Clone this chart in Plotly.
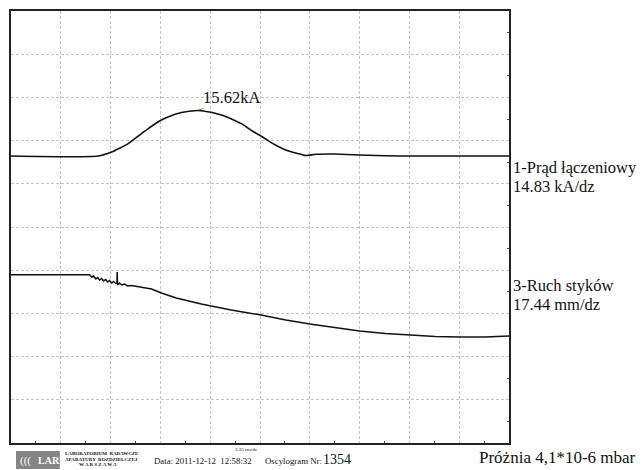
import plotly.graph_objects as go

# ---- scales (per division) ----
MS_PER_DIV = 2.35
KA_PER_DIV = 14.83
MM_PER_DIV = 17.44
N_DIV = 10

# ---- channel 1: switching current (kA) vs time (ms) ----
t_current = [0.00, 4.12, 4.75, 5.12, 5.53, 6.16, 6.49, 6.77, 7.10, 7.41, 8.04, 8.41,
             8.82, 9.21, 9.59, 10.01, 10.53, 10.95, 11.33, 11.70, 12.11, 12.50, 12.88,
             13.30, 13.68, 13.91, 14.38, 15.23, 16.83, 18.38, 23.50]
i_current = [0.00, 0.00, 1.37, 2.64, 4.26, 7.69, 9.51, 10.90, 12.33, 13.39, 14.90, 15.34,
             15.62, 15.27, 14.76, 13.87, 12.25, 10.78, 8.82, 7.28, 5.39, 3.67, 2.30,
             1.27, 0.58, 0.14, 0.58, 0.69, 0.24, 0.00, 0.00]

# ---- channel 3: contact travel (mm) vs time (ms) ----
t_travel = [0.00, 3.71, 3.81, 3.90, 4.00, 4.09, 4.18, 4.28, 4.37, 4.47, 4.56,
            4.65, 4.75, 4.84, 4.94, 5.00, 5.01, 5.03, 5.12, 5.22, 5.36, 5.50,
            5.69, 6.16, 6.63, 7.10, 7.80, 8.98, 10.39, 11.80, 12.97, 14.10,
            15.32, 16.45, 17.67, 18.80, 20.02, 21.20, 22.37, 23.50]
s_travel = [0.00, 0.00, -0.93, -0.52, -1.74, -1.13, -2.14, -1.53, -2.54, -1.94, -2.95,
            -2.34, -3.35, -2.75, -3.55, -3.40, 1.09, -4.16, -3.35, -4.16, -3.75, -4.56,
            -4.36, -4.97, -5.77, -7.39, -9.41, -11.83, -14.25, -16.27, -18.29, -19.90,
            -21.52, -22.73, -23.74, -24.34, -24.95, -25.15, -25.15, -24.75]

PEAK_LABEL = "15.62kA"
CH1_NAME = "1-Prąd łączeniowy"
CH1_SCALE = "14.83 kA/dz"
CH3_NAME = "3-Ruch styków"
CH3_SCALE = "17.44 mm/dz"
TIME_SCALE = "2.35 ms/dz"
VACUUM = "Próżnia 4,1*10-6 mbar"
DATE_TXT = "Data: 2011-12-12  12:58:32"
OSC_TXT = "Oscylogram Nr:"
OSC_NR = "1354"

# zero positions of channels (divisions from bottom)
CUR_ZERO_DIV = 6.644
TRAV_ZERO_DIV = 3.896

SERIF = "Liberation Serif"

fig = go.Figure()
fig.add_trace(go.Scatter(x=t_current, y=i_current, yaxis="y", mode="lines",
                         line=dict(color="#111111", width=1.6, shape="spline", smoothing=0.6),
                         hoverinfo="skip", showlegend=False))
fig.add_trace(go.Scatter(x=t_travel, y=s_travel, yaxis="y2", mode="lines",
                         line=dict(color="#111111", width=1.5),
                         hoverinfo="skip", showlegend=False))

grid = dict(showgrid=True, gridcolor="#c4c4c4", gridwidth=1, griddash="3px,2px",
            zeroline=False, showticklabels=False, showline=True, mirror=True,
            linecolor="#222222", linewidth=1.5)

y_bottom = -CUR_ZERO_DIV * KA_PER_DIV
y_top = (N_DIV - CUR_ZERO_DIV) * KA_PER_DIV

fig.update_layout(
    width=642, height=470,
    margin=dict(l=9, r=133, t=11, b=27),
    paper_bgcolor="white", plot_bgcolor="white",
    xaxis=dict(range=[0, N_DIV * MS_PER_DIV], dtick=MS_PER_DIV, tick0=0, ticks="",
               minor=dict(ticks="inside", ticklen=2, tickcolor="#555", dtick=MS_PER_DIV,
                          tick0=MS_PER_DIV / 2, showgrid=False), **grid),
    yaxis=dict(range=[y_bottom, y_top], dtick=KA_PER_DIV, tick0=y_bottom, side="right",
               ticks="",
               minor=dict(ticks="inside", ticklen=2, tickcolor="#555", dtick=KA_PER_DIV,
                          tick0=y_bottom + KA_PER_DIV / 2, showgrid=False), **grid),
    yaxis2=dict(overlaying="y", visible=False, showgrid=False,
                range=[-TRAV_ZERO_DIV * MM_PER_DIV, (N_DIV - TRAV_ZERO_DIV) * MM_PER_DIV]),
    font=dict(family=SERIF, color="#111111"),
)

# peak annotation
pk = i_current.index(max(i_current))
fig.add_annotation(x=t_current[pk], y=i_current[pk], xref="x", yref="y",
                   text=PEAK_LABEL, showarrow=True, arrowhead=0, arrowwidth=0.8,
                   arrowcolor="#444", ax=34, ay=-13, standoff=1,
                   font=dict(size=16.5, family=SERIF))


def px2paper(px, py):
    return (px - 9) / 500.0, (443 - py) / 432.0


def add_text(txt, px, py, size, xanchor="left", color="#111111"):
    x, y = px2paper(px, py)
    fig.add_annotation(x=x, y=y, xref="paper", yref="paper", text=txt, showarrow=False,
                       xanchor=xanchor, yanchor="middle",
                       font=dict(size=size, family=SERIF, color=color))


add_text(CH1_NAME, 511, 167, 16.5)
add_text(CH1_SCALE, 511, 186, 16.5)
add_text(CH3_NAME, 511, 285, 16.5)
add_text(CH3_SCALE, 511, 304, 16.5)
add_text(VACUUM, 639, 457, 17, xanchor="right")
add_text(TIME_SCALE, 232, 449, 5)
add_text(DATE_TXT, 151, 461, 8.8)
add_text(OSC_TXT, 262, 461, 8.8)
add_text(OSC_NR, 320, 459.5, 14)

# LAR logo block
x0, y0 = px2paper(14, 469)
x1, y1 = px2paper(58, 451)
fig.add_shape(type="rect", xref="paper", yref="paper", x0=x0, y0=y0, x1=x1, y1=y1,
              fillcolor="#858585", line=dict(width=0))
add_text("(((", 16, 460, 11, color="white")
add_text("<b>LAR</b>", 34, 460, 10, color="white")
add_text("<b>LABORATORIUM  BADAWCZE</b>", 61, 453.5, 5)
add_text("<b>APARATURY  ROZDZIELCZEJ</b>", 61, 459, 5)
add_text("<b>W A R S Z A W A</b>", 75, 465, 5)

fig.write_html("out.html", config={"displayModeBar": False},
               post_script="document.body.style.margin='0';document.body.style.padding='0';")
